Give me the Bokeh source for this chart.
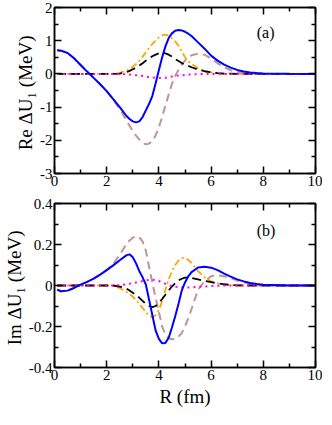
from bokeh.plotting import figure
from bokeh.layouts import column
from bokeh.models import Range1d, LinearAxis, FixedTicker, Label, CustomLabelingPolicy
from bokeh.embed import file_html
from bokeh.resources import INLINE

# ---------------- data ----------------
R = [0.1, 0.25, 0.5, 0.75, 1.0, 1.25, 1.5, 1.75, 2.0, 2.25, 2.5,
     2.75, 2.875, 3.0, 3.125, 3.25, 3.375, 3.5, 3.625, 3.75, 3.875,
     4.0, 4.125, 4.25, 4.375, 4.5, 4.625, 4.75, 4.875, 5.0, 5.125, 5.25,
     5.5, 5.75, 6.0, 6.25, 6.5, 6.75, 7.0, 7.25, 7.5, 7.75, 8.0, 9.0, 10.0]

# panel (a): Re dU1 (MeV)
re_blue = [0.71, 0.70, 0.63, 0.47, 0.27, 0.07, -0.12, -0.31, -0.52, -0.76, -1.0,
           -1.26, -1.36, -1.43, -1.46, -1.43, -1.3, -1.1, -0.9, -0.66, -0.28,
           0.12, 0.5, 0.83, 1.08, 1.22, 1.3, 1.32, 1.31, 1.27, 1.21, 1.14,
           0.95, 0.76, 0.55, 0.40, 0.28, 0.19, 0.12, 0.075, 0.045, 0.027, 0.015, 0.002, 0.0]
re_brown = [0.71, 0.70, 0.63, 0.47, 0.27, 0.07, -0.12, -0.31, -0.52, -0.78, -1.05,
            -1.4, -1.56, -1.72, -1.86, -1.98, -2.07, -2.12, -2.1, -2.02, -1.85,
            -1.6, -1.3, -0.95, -0.62, -0.3, -0.06, 0.12, 0.28, 0.4, 0.49, 0.56,
            0.61, 0.58, 0.46, 0.32, 0.2, 0.11, 0.06, 0.03, 0.015, 0.005, 0.0, 0.0, 0.0]
re_orange = [0, 0, 0, 0, 0, 0, 0, 0, 0, 0.01, 0.03,
             0.1, 0.15, 0.22, 0.3, 0.4, 0.52, 0.65, 0.78, 0.9, 1.01,
             1.1, 1.16, 1.18, 1.15, 1.08, 0.98, 0.85, 0.68, 0.5, 0.38, 0.3,
             0.17, 0.08, 0.04, 0.015, 0.005, 0, 0, 0, 0, 0, 0, 0, 0]
re_black = [0, 0, 0, 0, 0, 0, 0, 0, 0, 0, 0.01,
            0.05, 0.09, 0.14, 0.19, 0.25, 0.32, 0.4, 0.47, 0.53, 0.58,
            0.62, 0.635, 0.62, 0.58, 0.52, 0.45, 0.39, 0.33, 0.28, 0.24, 0.2,
            0.13, 0.08, 0.05, 0.025, 0.01, 0.005, 0, 0, 0, 0, 0, 0, 0]
re_magenta = [0, 0, 0, 0, 0, 0, 0, 0, 0, 0, 0,
              -0.01, -0.02, -0.03, -0.04, -0.05, -0.065, -0.08, -0.095, -0.11, -0.115,
              -0.12, -0.122, -0.12, -0.1, -0.08, -0.065, -0.05, -0.04, -0.03, -0.022, -0.015,
              -0.005, 0, 0, 0, 0, 0, 0, 0, 0, 0, 0, 0, 0]

# panel (b): Im dU1 (MeV)
im_blue = [-0.02, -0.028, -0.025, -0.012, 0.004, 0.018, 0.034, 0.053, 0.075, 0.098, 0.123,
           0.147, 0.152, 0.138, 0.108, 0.07, 0.04, 0.005, -0.07, -0.145, -0.22,
           -0.26, -0.282, -0.28, -0.255, -0.205, -0.15, -0.09, -0.025, 0.015, 0.045, 0.065,
           0.088, 0.092, 0.087, 0.075, 0.058, 0.043, 0.03, 0.02, 0.012, 0.007, 0.004, 0.0, 0.0]
im_brown = [-0.02, -0.028, -0.025, -0.012, 0.004, 0.018, 0.034, 0.053, 0.075, 0.105, 0.15,
            0.2, 0.22, 0.233, 0.24, 0.235, 0.215, 0.17, 0.09, 0.012, -0.06,
            -0.13, -0.2, -0.24, -0.258, -0.262, -0.26, -0.25, -0.232, -0.2, -0.16, -0.115,
            -0.02, 0.02, 0.045, 0.05, 0.045, 0.035, 0.025, 0.015, 0.008, 0.004, 0.002, 0.0, 0.0]
im_orange = [0, 0, 0, 0, 0, 0, 0, 0, 0, -0.003, -0.012,
             -0.03, -0.042, -0.055, -0.07, -0.09, -0.11, -0.13, -0.148, -0.155, -0.145,
             -0.12, -0.075, -0.02, 0.03, 0.07, 0.1, 0.122, 0.133, 0.135, 0.125, 0.11,
             0.07, 0.04, 0.02, 0.01, 0.004, 0.001, 0, 0, 0, 0, 0, 0, 0]
im_black = [0, 0, 0, 0, 0, 0, 0, 0, 0, 0, -0.005,
            -0.015, -0.024, -0.035, -0.047, -0.06, -0.075, -0.09, -0.1, -0.105, -0.1,
            -0.085, -0.066, -0.045, -0.024, -0.005, 0.011, 0.025, 0.033, 0.038, 0.039, 0.037,
            0.03, 0.022, 0.016, 0.01, 0.006, 0.003, 0.001, 0, 0, 0, 0, 0, 0]
im_magenta = [0, 0, 0, 0, 0, 0, 0, 0, 0, 0, 0.002,
              0.006, 0.009, 0.012, 0.015, 0.018, 0.022, 0.025, 0.027, 0.028, 0.026,
              0.022, 0.015, 0.008, 0.002, -0.003, -0.006, -0.008, -0.009, -0.01, -0.01, -0.009,
              -0.007, -0.005, -0.003, -0.001, 0, 0, 0, 0, 0, 0, 0, 0, 0]

x_ticks = [0, 2, 4, 6, 8, 10]
x_tick_labels = ["0", "2", "4", "6", "8", "10"]
x_minor = [1, 3, 5, 7, 9]
a_ticks = [-3, -2, -1, 0, 1, 2]
a_tick_labels = ["-3", "-2", "-1", "0", "1", "2"]
a_minor = [-2.5, -1.5, -0.5, 0.5, 1.5]
b_ticks = [-0.4, -0.2, 0, 0.2, 0.4]
b_tick_labels = ["-0.4", "-0.2", "0", "0.2", "0.4"]
b_minor = [-0.3, -0.1, 0.1, 0.3]

FONT = "Liberation Serif"


def style_axis(ax, ticks, minor, labels=None):
    ax.ticker = FixedTicker(ticks=ticks, minor_ticks=minor)
    ax.major_tick_in = 7
    ax.major_tick_out = 0
    ax.minor_tick_in = 4
    ax.minor_tick_out = 0
    ax.major_tick_line_width = 1.5
    ax.minor_tick_line_width = 1.5
    ax.axis_line_width = 1.5
    ax.axis_line_color = "black"
    ax.major_tick_line_color = "black"
    ax.minor_tick_line_color = "black"
    if labels is None:
        ax.major_label_policy = CustomLabelingPolicy(code="return []")
        ax.major_label_text_font_size = "0px"
        ax.major_label_standoff = 0
    else:
        ax.major_label_overrides = {t: l for t, l in zip(ticks, labels)}
        ax.major_label_text_font = FONT
        ax.major_label_text_font_size = "15px"
        ax.major_label_text_color = "black"
        ax.major_label_standoff = 2
    ax.axis_label_text_font = FONT
    ax.axis_label_text_font_style = "normal"
    ax.axis_label_text_font_size = "19px"
    ax.axis_label_text_color = "black"


def make_panel(height, yr, yticks, ylabels, yminor, ylabel, xlabel, series, tag, tag_xy,
               top, bottom):
    p = figure(width=322, height=height, x_range=Range1d(0, 10), y_range=Range1d(*yr),
               output_backend="svg", toolbar_location=None,
               min_border_left=46, min_border_right=7,
               min_border_top=top, min_border_bottom=bottom)
    p.xgrid.visible = False
    p.ygrid.visible = False
    p.outline_line_color = "black"
    p.outline_line_width = 1.5
    p.background_fill_color = "white"
    p.border_fill_color = "white"

    style_axis(p.xaxis[0], x_ticks, x_minor, x_tick_labels)
    style_axis(p.yaxis[0], yticks, yminor, ylabels)
    p.yaxis[0].axis_label = ylabel
    p.yaxis[0].axis_label_standoff = 1
    if xlabel:
        p.xaxis[0].axis_label = xlabel
        p.xaxis[0].axis_label_standoff = 3

    top_ax = LinearAxis()
    style_axis(top_ax, x_ticks, x_minor)
    p.add_layout(top_ax, "above")
    right_ax = LinearAxis()
    style_axis(right_ax, yticks, yminor)
    p.add_layout(right_ax, "right")

    brown, orange, black, magenta, blue = series
    p.line(R, brown, line_color="#bf9595", line_width=2, line_dash="8 5")
    p.line(R, orange, line_color="#ffa500", line_width=1.8, line_dash="7 3 2 3")
    p.line(R, black, line_color="black", line_width=1.8, line_dash="9 5")
    p.line(R, magenta, line_color="#ff00ff", line_width=2, line_dash="2 4")
    p.line(R, blue, line_color="#0000ff", line_width=2)

    p.add_layout(Label(x=tag_xy[0], y=tag_xy[1], text=tag, text_font=FONT,
                       text_font_size="16px", text_baseline="middle", text_color="black"))
    return p


pa = make_panel(195, (-3, 2), a_ticks, a_tick_labels, a_minor,
                "Re  \u0394U\u2081 (MeV)", None,
                (re_brown, re_orange, re_black, re_magenta, re_blue),
                "(a)", (7.75, 1.25), 7, 22)
pb = make_panel(214, (-0.4, 0.4), b_ticks, b_tick_labels, b_minor,
                "Im  \u0394U\u2081 (MeV)", "R (fm)",
                (im_brown, im_orange, im_black, im_magenta, im_blue),
                "(b)", (7.75, 0.27), 8, 36)

layout = column(pa, pb, spacing=0)
open("out.html", "w").write(file_html(layout, INLINE))
